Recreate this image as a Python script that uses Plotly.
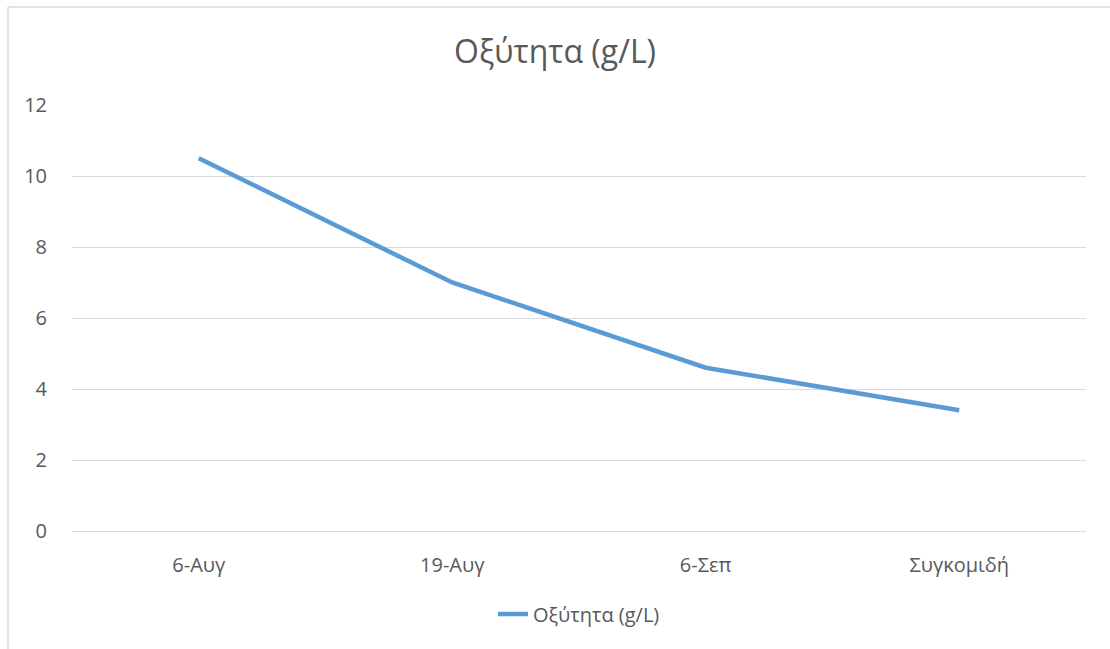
import plotly.graph_objects as go

categories = ["6-Αυγ", "19-Αυγ", "6-Σεπ", "Συγκομιδή"]
acidity = [10.5, 7.0, 4.6, 3.4]
series_name = "Οξύτητα (g/L)"
y_ticks = [0, 2, 4, 6, 8, 10, 12]

font_family = "Open Sans, Noto Sans, DejaVu Sans, sans-serif"
text_color = "#595959"
grid_color = "#D9D9D9"

fig = go.Figure()
fig.add_trace(go.Scatter(
    x=categories, y=acidity, mode="lines", name=series_name,
    line=dict(color="#5B9BD5", width=4.5, shape="linear"),
))

fig.update_layout(
    width=1110, height=649,
    paper_bgcolor="white", plot_bgcolor="white",
    margin=dict(l=72, r=24, t=105, b=118, autoexpand=False),
    title=dict(text="Οξύτητα (g/L)", x=0.5, xanchor="center", y=1 - 52 / 649, yanchor="middle",
               font=dict(family=font_family, size=32, color=text_color)),
    font=dict(family=font_family, size=20, color=text_color),
    showlegend=True,
    legend=dict(orientation="h", x=0.5, xanchor="center", y=-0.195, yanchor="middle",
                font=dict(family=font_family, size=20, color=text_color),
                bgcolor="rgba(0,0,0,0)"),
    xaxis=dict(type="category", range=[-0.5, 3.5], showgrid=False, showline=False,
               ticks="outside", tickcolor="rgba(0,0,0,0)", ticklen=16, zeroline=False,
               tickfont=dict(size=20, color=text_color)),
    yaxis=dict(range=[0, 12], tickvals=y_ticks, showgrid=True, gridcolor=grid_color,
               gridwidth=1, zeroline=True, zerolinecolor=grid_color, zerolinewidth=1,
               showline=False, ticks="outside",
               tickcolor="rgba(0,0,0,0)", ticklen=20,
               tickfont=dict(size=20, color=text_color)),
)

# chart area border (top and left visible in the reference)
fig.add_shape(type="line", xref="paper", yref="paper",
              x0=(8 - 72) / 1014, x1=(1110 - 72) / 1014, y0=(531 - 7) / 426, y1=(531 - 7) / 426,
              line=dict(color=grid_color, width=1.5))
fig.add_shape(type="line", xref="paper", yref="paper",
              x0=(8 - 72) / 1014, x1=(8 - 72) / 1014, y0=(531 - 7) / 426, y1=(531 - 660) / 426,
              line=dict(color=grid_color, width=1.5))

fig.write_html("out.html", config={"displayModeBar": False},
               post_script="document.body.style.margin='0';")
